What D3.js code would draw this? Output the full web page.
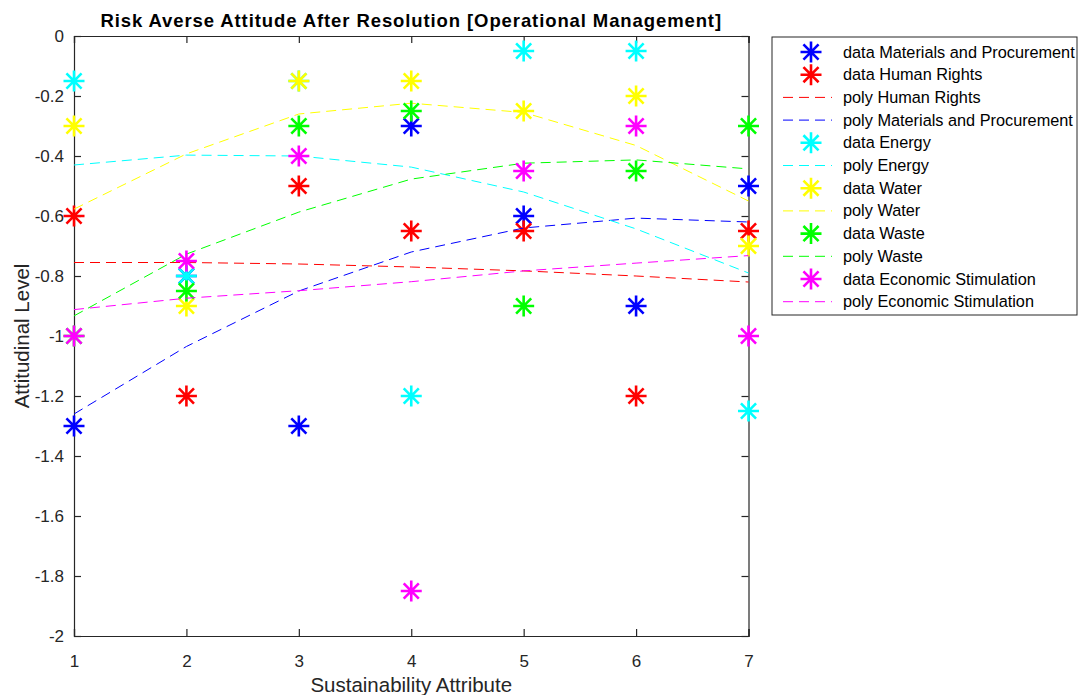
<!DOCTYPE html>
<html>
<head>
<meta charset="utf-8">
<script src="https://cdn.jsdelivr.net/npm/d3@7"></script>
<style>
  body { margin: 0; background: #fff; }
  text { font-family: "Liberation Sans", Arial, Helvetica, sans-serif; }
</style>
</head>
<body>
<svg id="chart" width="1078" height="695"></svg>
<script>
// x positions (sustainability attribute index)
var attributes = [1, 2, 3, 4, 5, 6, 7]
var yTicks = [0, -0.2, -0.4, -0.6, -0.8, -1, -1.2, -1.4, -1.6, -1.8, -2]

// data points
var dataMaterials = [-1.3, -0.8, -1.3, -0.3, -0.6, -0.9, -0.5]
var dataHumanRights = [-0.6, -1.2, -0.5, -0.65, -0.65, -1.2, -0.65]
var dataEnergy = [-0.15, -0.8, -0.15, -1.2, -0.05, -0.05, -1.25]
var dataWater = [-0.3, -0.9, -0.15, -0.15, -0.25, -0.2, -0.7]
var dataWaste = [-1.0, -0.85, -0.3, -0.25, -0.9, -0.45, -0.3]
var dataEconomic = [-1.0, -0.75, -0.4, -1.85, -0.45, -0.3, -1.0]

// fitted poly curves, value at each attribute
var polyHumanRights = [-0.755, -0.755, -0.76, -0.77, -0.783, -0.80, -0.82]
var polyMaterials = [-1.26, -1.035, -0.85, -0.72, -0.64, -0.607, -0.62]
var polyEnergy = [-0.43, -0.397, -0.40, -0.437, -0.52, -0.643, -0.79]
var polyWater = [-0.577, -0.393, -0.26, -0.224, -0.255, -0.365, -0.55]
var polyWaste = [-0.933, -0.727, -0.587, -0.477, -0.424, -0.413, -0.443]
var polyEconomic = [-0.912, -0.874, -0.849, -0.819, -0.783, -0.757, -0.732]

// drawing / legend order
var entries = [
  {type: "data", name: "data Materials and Procurement", values: dataMaterials, color: "#0000ff"},
  {type: "data", name: "data Human Rights", values: dataHumanRights, color: "#ff0000"},
  {type: "poly", name: "poly Human Rights", values: polyHumanRights, color: "#ff0000"},
  {type: "poly", name: "poly Materials and Procurement", values: polyMaterials, color: "#0000ff"},
  {type: "data", name: "data Energy", values: dataEnergy, color: "#00ffff"},
  {type: "poly", name: "poly Energy", values: polyEnergy, color: "#00ffff"},
  {type: "data", name: "data Water", values: dataWater, color: "#ffff00"},
  {type: "poly", name: "poly Water", values: polyWater, color: "#ffff00"},
  {type: "data", name: "data Waste", values: dataWaste, color: "#00ff00"},
  {type: "poly", name: "poly Waste", values: polyWaste, color: "#00ff00"},
  {type: "data", name: "data Economic Stimulation", values: dataEconomic, color: "#ff00ff"},
  {type: "poly", name: "poly Economic Stimulation", values: polyEconomic, color: "#ff00ff"}
]

var svg = d3.select("#chart")
var plotLeft = 74, plotRight = 748.5, plotTop = 36, plotBottom = 636

var x = d3.scaleLinear().domain([1, 7]).range([plotLeft, plotRight])
var y = d3.scaleLinear().domain([-2, 0]).range([plotBottom, plotTop])

var axisColor = "#262626"

// asterisk marker path
function asterisk(r) {
  var d = r * 0.72
  return "M0," + (-r) + "L0," + r + "M" + (-r) + ",0L" + r + ",0" +
    "M" + (-d) + "," + (-d) + "L" + d + "," + d + "M" + (-d) + "," + d + "L" + d + "," + (-d)
}

// axes (ticks pointing inward, box on)
svg.append("g").attr("transform", "translate(0," + plotBottom + ")")
  .call(d3.axisBottom(x).tickValues(attributes).tickSize(-7).tickPadding(19).tickFormat(d3.format("d")))
svg.append("g").attr("transform", "translate(0," + plotTop + ")")
  .call(d3.axisTop(x).tickValues(attributes).tickSize(-7).tickFormat(""))
svg.append("g").attr("transform", "translate(" + plotLeft + ",0)")
  .call(d3.axisLeft(y).tickValues(yTicks).tickSize(-7).tickPadding(10).tickFormat(function(d) { return String(+d.toFixed(1)) }))
svg.append("g").attr("transform", "translate(" + plotRight + ",0)")
  .call(d3.axisRight(y).tickValues(yTicks).tickSize(-7).tickFormat(""))

svg.selectAll(".domain").attr("stroke", axisColor).attr("stroke-width", 1.2)
svg.selectAll(".tick line").attr("stroke", axisColor).attr("stroke-width", 1.2)
svg.selectAll(".tick text").attr("fill", axisColor).style("font-size", "17px")
  .style("font-family", "'Liberation Sans', Arial, sans-serif")

// series
var line = d3.line().x(function(d, i) { return x(attributes[i]) }).y(function(d) { return y(d) })

entries.forEach(function(e) {
  if (e.type == "poly") {
    svg.append("path")
      .datum(e.values)
      .attr("d", line)
      .attr("fill", "none")
      .attr("stroke", e.color)
      .attr("stroke-width", 1)
      .attr("stroke-dasharray", "10,6")
  } else {
    svg.append("g").selectAll("path")
      .data(e.values)
      .enter()
      .append("path")
      .attr("transform", function(d, i) { return "translate(" + x(attributes[i]) + "," + y(d) + ")" })
      .attr("d", asterisk(10.5))
      .attr("fill", "none")
      .attr("stroke", e.color)
      .attr("stroke-width", 2.6)
  }
})

// title and labels
svg.append("text")
  .attr("x", (plotLeft + plotRight) / 2).attr("y", 27)
  .attr("text-anchor", "middle")
  .style("font-size", "18.5px").style("font-weight", "bold")
  .style("letter-spacing", "0.9px")
  .attr("fill", "#000")
  .text("Risk Averse Attitude After Resolution [Operational Management]")

svg.append("text")
  .attr("x", (plotLeft + plotRight) / 2).attr("y", 692)
  .attr("text-anchor", "middle")
  .style("font-size", "20.5px")
  .attr("fill", axisColor)
  .text("Sustainability Attribute")

svg.append("text")
  .attr("transform", "translate(29," + (plotTop + plotBottom) / 2 + ") rotate(-90)")
  .attr("text-anchor", "middle")
  .style("font-size", "20.5px")
  .attr("fill", axisColor)
  .text("Attitudinal Level")

// legend
var legendX = 772, legendY = 37, rowH = 22.7
svg.append("rect")
  .attr("x", legendX).attr("y", legendY)
  .attr("width", 305).attr("height", 278)
  .attr("fill", "#fff").attr("stroke", axisColor).attr("stroke-width", 1)

var legend = svg.selectAll(".legend")
  .data(entries)
  .enter()
  .append("g")
  .attr("class", "legend")
  .attr("transform", function(d, i) { return "translate(" + legendX + "," + (52 + i * rowH) + ")" })

legend.each(function(d) {
  var g = d3.select(this)
  if (d.type == "poly") {
    g.append("line")
      .attr("x1", 11).attr("x2", 60).attr("y1", 0).attr("y2", 0)
      .attr("stroke", d.color).attr("stroke-width", 1)
      .attr("stroke-dasharray", "10,6")
  } else {
    g.append("path")
      .attr("transform", "translate(39,0)")
      .attr("d", asterisk(10.5))
      .attr("fill", "none")
      .attr("stroke", d.color)
      .attr("stroke-width", 2.6)
  }
})

legend.append("text")
  .attr("x", 71).attr("y", 5.5)
  .style("font-size", "16.3px")
  .attr("fill", "#000")
  .text(function(d) { return d.name })
</script>
</body>
</html>
